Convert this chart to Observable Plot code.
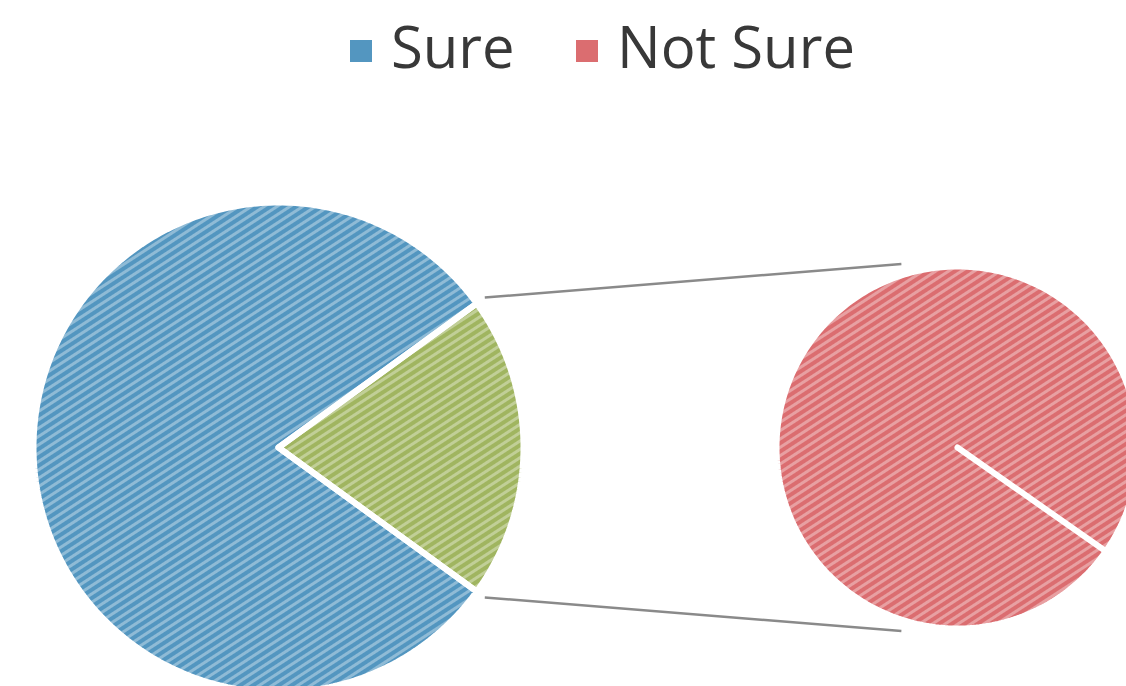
<!DOCTYPE html>
<html>
<head>
<meta charset="utf-8">
<script src="https://cdn.jsdelivr.net/npm/d3@7"></script>
<script src="https://cdn.jsdelivr.net/npm/@observablehq/plot@0.6"></script>
<style>
  html, body { margin: 0; padding: 0; background: #fff; overflow: hidden; }
  #legend { position: relative; width: 1126px; height: 100px; font-family: "Open Sans", sans-serif; color: #383838; }
  #legend .sw { position: absolute; width: 22px; height: 22px; }
  #legend .lb { position: absolute; font-size: 58px; line-height: 58px; white-space: nowrap; }
</style>
</head>
<body>
<div id="legend"></div>
<div id="chart"></div>
<script>
// ---- data ----
const categories = ["Sure", "Not Sure"];
const values = [80, 20];
const secondaryCategories = ["Not Sure"];   // split into the second pie
const otherLabel = "Other";

// ---- styles / layout ----
const colorDomain = ["Sure", "Not Sure", "Other"];
const colorRange = ["#5396c0", "#db6d70", "#a0b560"];
const W = 1126, H = 586;
const main = {cx: 278, cy: 347, r: 245};
const second = {cx: 957, cy: 347, r: 181, start: -35};

const rad = d => d * Math.PI / 180;
const total = d3.sum(values);
const otherValue = d3.sum(categories.map((c, i) => secondaryCategories.includes(c) ? values[i] : 0));
const otherSpan = otherValue / total * 360;

function arcPolygon(key, slice, pie, a0, a1) {
  const pts = [{key, slice, x: pie.cx, y: pie.cy}];
  const n = Math.max(2, Math.ceil(Math.abs(a1 - a0) / 1));
  for (let i = 0; i <= n; i++) {
    const a = rad(a0 + (a1 - a0) * i / n);
    pts.push({key, slice, x: pie.cx + pie.r * Math.cos(a), y: pie.cy - pie.r * Math.sin(a)});
  }
  pts.push({key, slice, x: pie.cx, y: pie.cy});
  return pts;
}

const points = [];
// main pie: "Other" slice centered on the right, the rest of the categories around it
let angle = otherSpan / 2;
categories.forEach((c, i) => {
  if (secondaryCategories.includes(c)) return;
  const span = values[i] / total * 360;
  points.push(...arcPolygon("main-" + c, c, main, angle, angle + span));
  angle += span;
});
points.push(...arcPolygon("main-other", otherLabel, main, -otherSpan / 2, otherSpan / 2));
// secondary pie
const secTotal = otherValue;
let a2 = second.start;
categories.forEach((c, i) => {
  if (!secondaryCategories.includes(c)) return;
  const span = values[i] / secTotal * 360;
  points.push(...arcPolygon("sec-" + c, c, second, a2, a2 + span));
  a2 += span;
});

// connector lines
const half = rad(otherSpan / 2);
const tilt = rad(17);
const connectors = [
  {x1: main.cx + (main.r + 10) * Math.cos(half), y1: main.cy - (main.r + 10) * Math.sin(half),
   x2: second.cx + (second.r + 11) * Math.cos(Math.PI / 2 + tilt), y2: second.cy - (second.r + 11) * Math.sin(Math.PI / 2 + tilt)},
  {x1: main.cx + (main.r + 10) * Math.cos(-half), y1: main.cy - (main.r + 10) * Math.sin(-half),
   x2: second.cx + (second.r + 11) * Math.cos(-Math.PI / 2 - tilt), y2: second.cy - (second.r + 11) * Math.sin(-Math.PI / 2 - tilt)}
];

const chart = Plot.plot({
  width: W, height: H, margin: 0,
  x: {domain: [0, W], range: [0, W], axis: null},
  y: {domain: [0, H], range: [0, H], axis: null},
  color: {domain: colorDomain, range: colorRange},
  marks: [
    Plot.link(connectors, {x1: "x1", y1: "y1", x2: "x2", y2: "y2", stroke: "#8a8a8a", strokeWidth: 2.5}),
    Plot.line(points, {x: "x", y: "y", z: "key", fill: "slice", stroke: "none", curve: "linear"}),
    Plot.line(points, {x: "x", y: "y", z: "key", fill: "url(#stripes)", stroke: "none", curve: "linear"}),
    Plot.line(points, {x: "x", y: "y", z: "key", fill: "none", stroke: "white", strokeWidth: 6, strokeLinejoin: "miter", curve: "linear"})
  ]
});

// stripe texture
const ns = "http://www.w3.org/2000/svg";
const defs = document.createElementNS(ns, "defs");
defs.innerHTML = '<pattern id="stripes" patternUnits="userSpaceOnUse" width="7" height="7" patternTransform="rotate(-33)">' +
  '<rect x="0" y="0" width="7" height="3" fill="white" fill-opacity="0.35"></rect></pattern>';
chart.insertBefore(defs, chart.firstChild);
document.getElementById("chart").appendChild(chart);

// legend
const legend = document.getElementById("legend");
const legendItems = [
  {label: categories[0], sw: 350, tx: 391},
  {label: categories[1], sw: 576, tx: 617}
];
legendItems.forEach(it => {
  const s = document.createElement("div");
  s.className = "sw";
  s.style.left = it.sw + "px"; s.style.top = "40px";
  s.style.background = colorRange[colorDomain.indexOf(it.label)];
  legend.appendChild(s);
  const t = document.createElement("div");
  t.className = "lb";
  t.style.left = it.tx + "px"; t.style.top = "17px";
  t.textContent = it.label;
  legend.appendChild(t);
});
</script>
</body>
</html>
